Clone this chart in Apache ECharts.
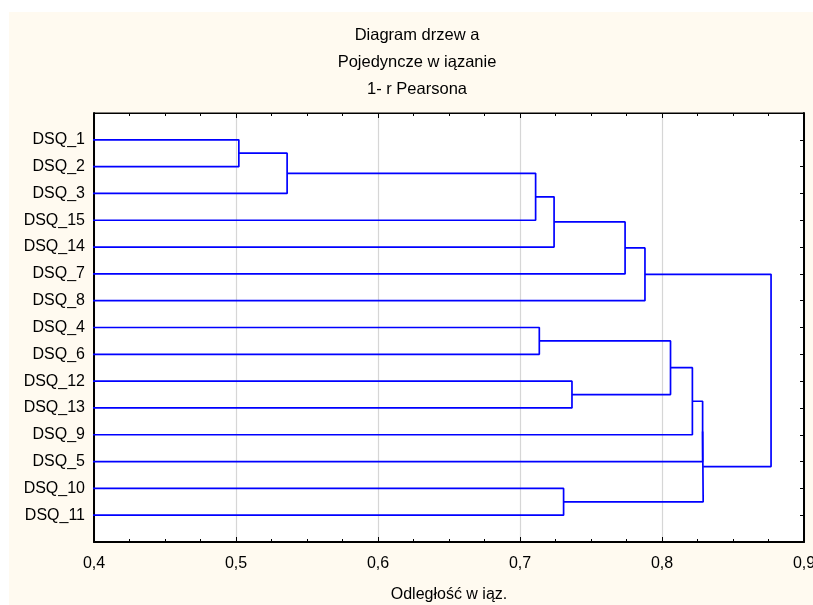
<!DOCTYPE html>
<html>
<head>
<meta charset="utf-8">
<script src="https://cdn.jsdelivr.net/npm/echarts@6/dist/echarts.min.js"></script>
<style>
    html, body { margin: 0; padding: 0; background: #fff; }
    #wrap { position: relative; width: 813px; height: 605px; overflow: hidden; }
    #paper { position: absolute; left: 9px; top: 12px; right: 0; bottom: 0; background: #fffaf0; }
    #chart { position: absolute; left: 0; top: 0; width: 813px; height: 605px; }
</style>
</head>
<body>
<div id="wrap">
    <div id="paper"></div>
    <div id="chart"></div>
</div>
<script>
    'use strict';

    // leaves, top to bottom
    var leaves = ['DSQ_1', 'DSQ_2', 'DSQ_3', 'DSQ_15', 'DSQ_14', 'DSQ_7', 'DSQ_8',
        'DSQ_4', 'DSQ_6', 'DSQ_12', 'DSQ_13', 'DSQ_9', 'DSQ_5', 'DSQ_10', 'DSQ_11'];

    // merges: node 15+k = mergeA[k] + mergeB[k] at distance mergeDist[k]
    var mergeA = [0, 15, 16, 17, 18, 19, 7, 9, 21, 23, 24, 13, 25, 20];
    var mergeB = [1, 2, 3, 4, 5, 6, 8, 10, 22, 11, 12, 14, 26, 27];
    var mergeDist = [0.502, 0.536, 0.711, 0.724, 0.774, 0.788, 0.7136, 0.7366,
        0.806, 0.8214, 0.8286, 0.7307, 0.829, 0.8768];

    var xTicks = [0.4, 0.5, 0.6, 0.7, 0.8, 0.9];

    var titleLines = ['Diagram drzew a', 'Pojedyncze w iązanie', '1- r Pearsona'];
    var xName = 'Odległość w iąz.';

    var font = '"Liberation Sans", Arial, sans-serif';

    // node positions
    var nodeY = [], nodeH = [];
    for (var i = 0; i < leaves.length; i++) {
        nodeY.push(i);
        nodeH.push(0);
    }
    var series = [];
    for (var k = 0; k < mergeA.length; k++) {
        var a = mergeA[k], b = mergeB[k], h = mergeDist[k];
        series.push({
            type: 'line',
            data: [[nodeH[a], nodeY[a]], [h, nodeY[a]], [h, nodeY[b]], [nodeH[b], nodeY[b]]],
            symbol: 'none',
            clip: true,
            silent: true,
            lineStyle: { color: '#0000ff', width: 1.7 },
            z: 3
        });
        nodeY.push((nodeY[a] + nodeY[b]) / 2);
        nodeH.push(h);
    }

    var titleGraphics = [];
    for (var t = 0; t < titleLines.length; t++) {
        titleGraphics.push({
            type: 'text',
            x: 417,
            y: 35 + t * 27,
            style: {
                text: titleLines[t],
                fill: '#000',
                font: '16.5px ' + font,
                textAlign: 'center',
                textVerticalAlign: 'middle'
            }
        });
    }

    var xMin = xTicks[0], xMax = xTicks[xTicks.length - 1];

    var option = {
        backgroundColor: 'transparent',
        animation: false,
        textStyle: { fontFamily: font },
        graphic: titleGraphics,
        grid: {
            left: 94, right: 9, top: 113, bottom: 63,
            outerBoundsMode: 'none',
            containLabel: false,
            show: true,
            backgroundColor: '#fff',
            borderColor: '#000',
            borderWidth: 1
        },
        xAxis: [{
            type: 'value',
            position: 'bottom',
            min: xMin, max: xMax, interval: 0.1,
            name: xName,
            nameLocation: 'middle',
            nameGap: 45,
            nameTextStyle: { fontSize: 16, color: '#000', fontFamily: font },
            axisLine: { show: true, onZero: false, lineStyle: { color: '#000', width: 2 } },
            axisTick: { show: true, inside: true, length: 5, lineStyle: { color: '#000' } },
            minorTick: { show: true, splitNumber: 4, length: 3, lineStyle: { color: '#000' } },
            axisLabel: {
                fontSize: 16, color: '#000', margin: 14, fontFamily: font,
                formatter: function (v) { return v.toFixed(1).replace('.', ','); }
            },
            splitLine: { show: true, lineStyle: { color: '#d6d6d6', width: 1.2 } }
        }, {
            type: 'value',
            position: 'top',
            min: xMin, max: xMax, interval: 0.1,
            axisLine: { show: true, onZero: false, lineStyle: { color: '#000' } },
            axisTick: { show: true, inside: true, length: 5, lineStyle: { color: '#000' } },
            minorTick: { show: true, splitNumber: 4, length: 3, lineStyle: { color: '#000' } },
            axisLabel: { show: false },
            splitLine: { show: false }
        }],
        yAxis: [{
            type: 'value',
            position: 'left',
            inverse: true,
            min: -1, max: leaves.length, interval: 1,
            axisLine: { show: true, onZero: false, lineStyle: { color: '#000', width: 2 } },
            axisTick: { show: false },
            axisLabel: {
                fontSize: 16, color: '#000', margin: 9, fontFamily: font,
                formatter: function (v) { return leaves[v] || ''; }
            },
            splitLine: { show: false }
        }, {
            type: 'value',
            position: 'right',
            inverse: true,
            min: -1, max: leaves.length, interval: 1,
            axisLine: { show: true, onZero: false, lineStyle: { color: '#000', width: 2 } },
            axisTick: { show: true, inside: true, length: 4, lineStyle: { color: '#000' } },
            axisLabel: { show: false },
            splitLine: { show: false }
        }],
        series: series
    };

    var chart = echarts.init(document.getElementById('chart'), null, { renderer: 'canvas' });
    chart.setOption(option);
</script>
</body>
</html>
